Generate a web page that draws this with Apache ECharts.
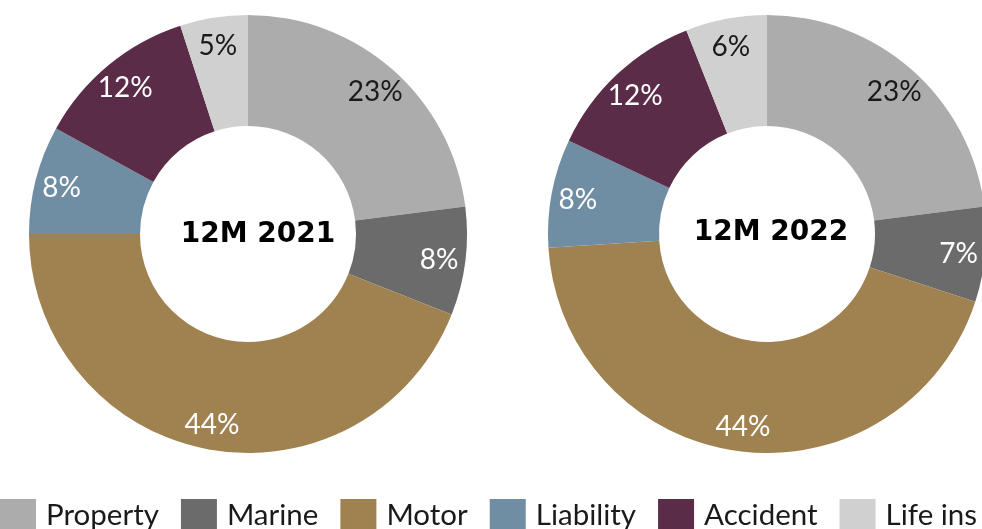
<!DOCTYPE html>
<html>
<head>
<meta charset="utf-8">
<script src="https://cdn.jsdelivr.net/npm/echarts@6/dist/echarts.min.js"></script>
<style>
html,body{margin:0;padding:0;background:#fff;}
#chart{width:982px;height:529px;}
</style>
</head>
<body>
<div id="chart"></div>
<script>
const categories = ['Property', 'Marine', 'Motor', 'Liability', 'Accident', 'Life ins'];
const values2021 = [23, 8, 44, 8, 12, 5];
const values2022 = [23, 7, 44, 8, 12, 6];
const centerTitles = ['12M 2021', '12M 2022'];

const colors = ['#acacac', '#6b6b6b', '#a08250', '#6f8da3', '#5b2c48', '#d0d0d0'];
const labelColors = ['#1a1a1a', '#ffffff', '#ffffff', '#ffffff', '#ffffff', '#1a1a1a'];
const FONT = 'Lato, "Open Sans", sans-serif';

function ringSeries(vals, cx) {
  return {
    type: 'pie',
    center: [cx, 234],
    radius: [108, 219],
    startAngle: 90,
    clockwise: true,
    silent: true,
    avoidLabelOverlap: false,
    label: { show: false },
    labelLine: { show: false },
    data: categories.map((c, i) => ({ name: c, value: vals[i], itemStyle: { color: colors[i] } }))
  };
}
function labelSeries(vals, cx) {
  return {
    type: 'pie',
    center: [cx, 236],
    radius: [160, 219],
    startAngle: 90,
    clockwise: true,
    silent: true,
    avoidLabelOverlap: false,
    labelLine: { show: false },
    data: categories.map((c, i) => ({
      name: c, value: vals[i],
      itemStyle: { color: 'rgba(0,0,0,0)' },
      label: {
        show: true, position: 'inside', formatter: '{c}%',
        color: labelColors[i], fontSize: 28, fontFamily: FONT, fontWeight: 'normal'
      }
    }))
  };
}

const chart = echarts.init(document.getElementById('chart'), null, { renderer: 'canvas' });
chart.setOption({
  animation: false,
  backgroundColor: '#ffffff',
  legend: {
    left: 0,
    top: 499,
    padding: 0,
    itemWidth: 36,
    itemHeight: 32,
    itemGap: 22,
    icon: 'rect',
    selectedMode: false,
    textStyle: { fontSize: 29.5, color: '#1a1a1a', fontFamily: FONT, padding: [0, 0, 0, 5] },
    data: categories.map((c, i) => ({ name: c, itemStyle: { color: colors[i] } }))
  },
  graphic: [
    { type: 'text', x: 258, y: 235, style: { text: centerTitles[0], font: 'bold 28px "DejaVu Sans", sans-serif', fill: '#000', align: 'center', verticalAlign: 'middle' } },
    { type: 'text', x: 771, y: 233, style: { text: centerTitles[1], font: 'bold 28px "DejaVu Sans", sans-serif', fill: '#000', align: 'center', verticalAlign: 'middle' } }
  ],
  series: [
    ringSeries(values2021, 248),
    ringSeries(values2022, 767),
    labelSeries(values2021, 248),
    labelSeries(values2022, 767)
  ]
});
</script>
</body>
</html>
